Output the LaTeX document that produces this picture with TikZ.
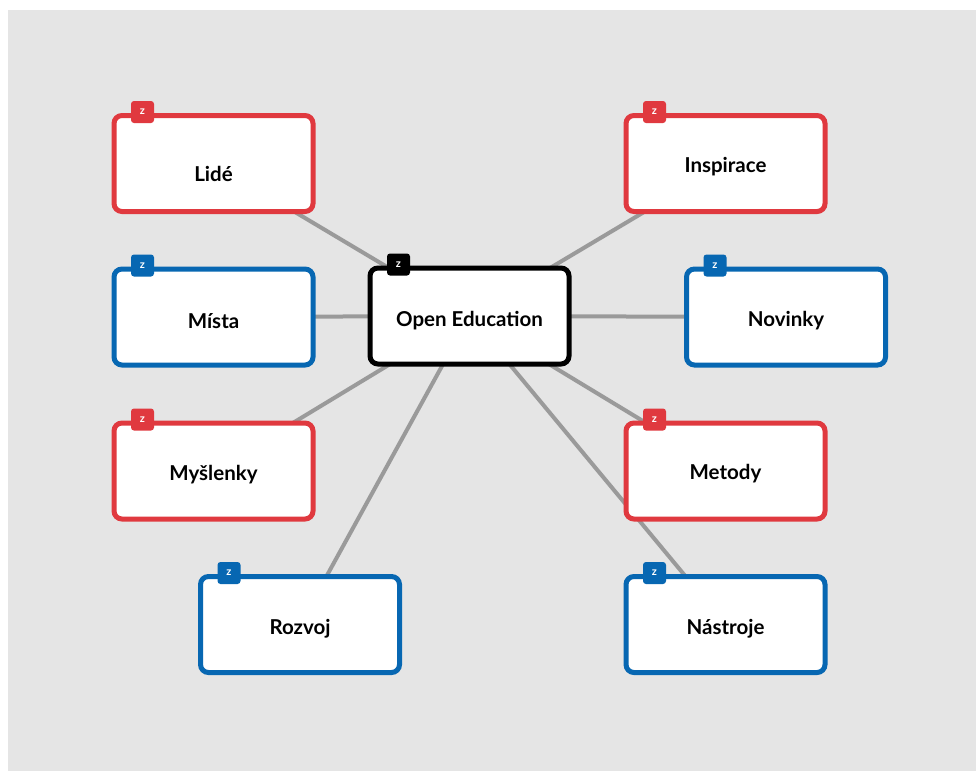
\documentclass[tikz,border=0pt]{standalone}
\usepackage{fontspec}
\setmainfont{Lato}
\usetikzlibrary{backgrounds}
\definecolor{mapred}{HTML}{E0393F}
\definecolor{mapblue}{HTML}{0767B2}
\definecolor{mapgray}{HTML}{9A9A9A}
\definecolor{mapbg}{HTML}{E5E5E5}
\tikzset{
  topic/.style={draw=#1, line width=5pt, fill=white, rounded corners=8pt,
    minimum width=199pt, minimum height=96pt, inner sep=0pt},
  label text/.style={font=\bfseries\fontsize{20.5}{22}\selectfont, text=black, inner sep=0pt, yshift=-2pt},
  tab/.style={fill=#1, rounded corners=3pt, minimum width=23pt, minimum height=22pt,
    inner sep=0pt, text=white, font=\bfseries\fontsize{11}{11}\selectfont},
  link/.style={draw=mapgray, line width=4pt}
}
\begin{document}
\begin{tikzpicture}[x=1pt,y=-1pt]
  \useasboundingbox (0,0) rectangle (976,771);
  \begin{pgfonlayer}{background}
    \fill[mapbg] (8,10) rectangle (976,771);
  \end{pgfonlayer}

  % boxes
  \node[topic=black] (oe) at (469.5,316) {};
  \node[topic=mapred] (lide) at (213.5,163.5) {};
  \node[topic=mapred] (insp) at (725.5,163.5) {};
  \node[topic=mapblue] (mista) at (213.5,317) {};
  \node[topic=mapblue] (nov) at (786,317) {};
  \node[topic=mapred] (mysl) at (213.5,471) {};
  \node[topic=mapred] (met) at (725.5,471) {};
  \node[topic=mapblue] (rozv) at (300,624.5) {};
  \node[topic=mapblue] (nast) at (725.5,624.5) {};

  % connectors between box centres, behind the boxes
  \begin{pgfonlayer}{background}
    \foreach \n in {lide,insp,mista,nov,mysl,met,rozv,nast}
      \draw[link] (\n.center) -- (oe.center);
  \end{pgfonlayer}

  % tabs on the top edge
  \node[tab=black] (oe-tab) at ([xshift=31pt,yshift=1pt]oe.north west) {z};
  \foreach \n/\c in {lide/mapred,insp/mapred,mista/mapblue,nov/mapblue,mysl/mapred,met/mapred,rozv/mapblue,nast/mapblue}
    \node[tab=\c] (\n-tab) at ([xshift=31pt,yshift=1pt]\n.north west) {z};

  % labels
  \node[label text] (oe-t) at (469.5,319) {Open Education};
  \node[label text] (lide-t) at (213.5,172) {Lidé};
  \node[label text] (insp-t) at (725.5,165) {Inspirace};
  \node[label text] (mista-t) at (213.5,319) {Místa};
  \node[label text] (nov-t) at (786,319) {Novinky};
  \node[label text] (mysl-t) at (213.5,473) {Myšlenky};
  \node[label text] (met-t) at (725.5,472) {Metody};
  \node[label text] (rozv-t) at (300,627) {Rozvoj};
  \node[label text] (nast-t) at (725.5,627) {Nástroje};
\end{tikzpicture}
\end{document}
